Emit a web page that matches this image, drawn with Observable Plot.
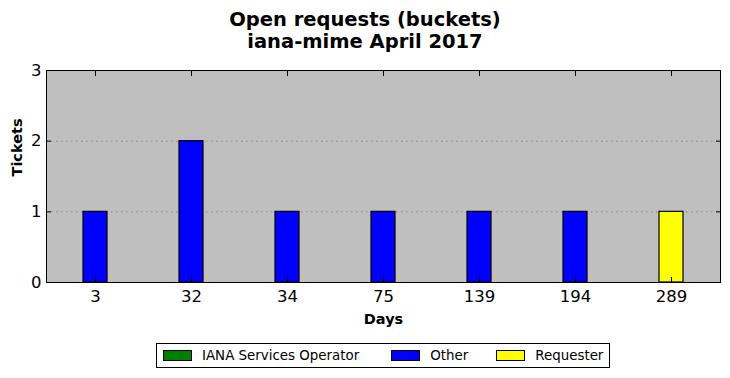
<!DOCTYPE html>
<html>
<head>
<meta charset="utf-8">
<script src="https://cdn.jsdelivr.net/npm/d3@7"></script>
<script src="https://cdn.jsdelivr.net/npm/@observablehq/plot@0.6"></script>
<style>
  html, body { margin: 0; padding: 0; background: #fff; width: 730px; height: 378px; overflow: hidden; font-family: "DejaVu Sans", sans-serif; }
  #title { position: absolute; left: 0; top: 9px; width: 730px; text-align: center; font-weight: bold; font-size: 19.5px; line-height: 22px; color: #000; }
  #chart { position: absolute; left: 0; top: 60px; }
  #legend { position: absolute; left: 156px; top: 343px; width: 452px; height: 23px; border: 1px solid #000; background: #fff; display: flex; align-items: center; font-size: 13.4px; color: #000; }
  .item { display: flex; align-items: center; }
  .sw { width: 27px; height: 9px; border: 1px solid #000; margin-right: 10px; }
</style>
</head>
<body>
<div id="title">Open requests (buckets)<br>iana-mime April 2017</div>
<div id="chart"></div>
<div id="legend"></div>
<script>
const days = ["3", "32", "34", "75", "139", "194", "289"];
const seriesNames = ["IANA Services Operator", "Other", "Requester"];
const seriesColors = ["#008000", "#0000ff", "#ffff00"];
const operatorCounts = [0, 0, 0, 0, 0, 0, 0];
const otherCounts = [1, 2, 1, 1, 1, 1, 0];
const requesterCounts = [0, 0, 0, 0, 0, 0, 1];
const yTicks = [0, 1, 2, 3];
const gridTicks = [1, 2];

const counts = [operatorCounts, otherCounts, requesterCounts];
const rows = [];
seriesNames.forEach((s, si) => days.forEach((d, di) => {
  if (counts[si][di] > 0) rows.push({day: d, series: s, n: counts[si][di]});
}));

const plot = Plot.plot({
  width: 730,
  height: 270,
  marginLeft: 46,
  marginRight: 10,
  marginTop: 10,
  marginBottom: 48,
  style: {fontFamily: "DejaVu Sans, sans-serif", fontSize: "16px", color: "#000", background: "transparent"},
  x: {domain: days, paddingInner: 0.75, paddingOuter: 0.375, label: null},
  y: {domain: [0, 3], label: null},
  color: {domain: seriesNames, range: seriesColors},
  marks: [
    Plot.frame({fill: "#bfbfbf", stroke: "none"}),
    Plot.ruleY(gridTicks, {stroke: "#888", strokeDasharray: "1.5,3.5", strokeWidth: 1}),
    Plot.barY(rows, Plot.stackY({x: "day", y: "n", fill: "series", stroke: "#000", strokeWidth: 1.2})),
    Plot.axisX({anchor: "bottom", tickSize: 0, tickPadding: 8, fontSize: 16.5, label: null}),
    Plot.axisX({anchor: "bottom", tickSize: -5, tickFormat: () => "", label: null}),
    Plot.axisX({anchor: "top", tickSize: -5, tickFormat: () => "", label: null}),
    Plot.axisY({anchor: "left", ticks: yTicks, tickSize: 0, tickPadding: 5, tickFormat: d3.format("d"), fontSize: 16.5, label: null}),
    Plot.axisY({anchor: "left", ticks: yTicks, tickSize: -5, tickFormat: () => "", label: null}),
    Plot.axisY({anchor: "right", ticks: yTicks, tickSize: -5, tickFormat: () => "", label: null}),
    Plot.frame({stroke: "#000", strokeWidth: 1}),
    Plot.text(["Tickets"], {frameAnchor: "left", dx: -29, rotate: -90, fontWeight: "bold", fontSize: 14.5}),
    Plot.text(["Days"], {frameAnchor: "bottom", dy: 41, fontWeight: "bold", fontSize: 14.5})
  ]
});
document.getElementById("chart").appendChild(plot);

const legend = document.getElementById("legend");
const gaps = ["6px", "32px", "28px"];
seriesNames.forEach((s, i) => {
  const item = document.createElement("div");
  item.className = "item";
  item.style.marginLeft = gaps[i];
  const sw = document.createElement("div");
  sw.className = "sw";
  sw.style.background = seriesColors[i];
  const lab = document.createElement("span");
  lab.textContent = s;
  item.appendChild(sw);
  item.appendChild(lab);
  legend.appendChild(item);
});
</script>
</body>
</html>
